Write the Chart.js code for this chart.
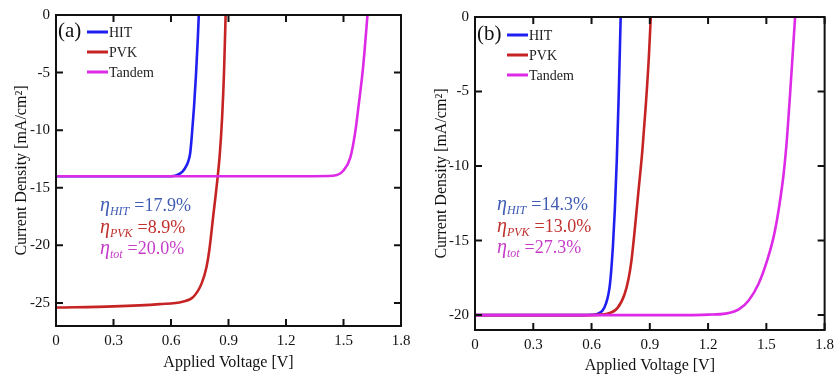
<!DOCTYPE html>
<html>
<head>
<meta charset="utf-8">
<script src="https://cdn.jsdelivr.net/npm/chart.js@4.4.1/dist/chart.umd.min.js"></script>
<style>
  body { margin: 0; background: #fff; }
  #wrap { position: relative; width: 840px; height: 376px; }
  canvas { position: absolute; top: 0; }
  #chartA { left: 0; }
  #chartB { left: 420px; }
</style>
</head>
<body>
<div id="wrap">
  <canvas id="chartA" width="420" height="376"></canvas>
  <canvas id="chartB" width="420" height="376"></canvas>
</div>
<script>
// panel (a)
const aHitV = [0, 0.3, 0.6, 0.63, 0.66, 0.68, 0.69, 0.70, 0.71, 0.72, 0.73, 0.74, 0.745];
const aHitJ = [-14, -14, -14, -13.9, -13.6, -13.1, -12.7, -12.0, -10.2, -8.0, -5.3, -2.0, 0];
const aPvkV = [0, 0.3, 0.54, 0.66, 0.715, 0.76, 0.785, 0.80, 0.82, 0.84, 0.855, 0.867, 0.877, 0.885];
const aPvkJ = [-25.4, -25.3, -25.1, -24.9, -24.5, -23.3, -21.9, -20.4, -17.5, -14.6, -12.0, -8.8, -4.8, 0];
const aTanV = [0, 0.6, 1.2, 1.445, 1.5, 1.535, 1.56, 1.58, 1.6, 1.61, 1.625];
const aTanJ = [-14, -14, -14, -13.95, -13.5, -12.4, -10.3, -7.7, -4.9, -3.1, 0];
const aEta = ["17.9%", "8.9%", "20.0%"];

// panel (b)
const bHitV = [0, 0.55, 0.6, 0.634, 0.675, 0.695, 0.71, 0.72, 0.73, 0.74, 0.75];
const bHitJ = [-20, -20, -19.98, -19.9, -19.2, -17.9, -15.4, -12.9, -9.6, -5.2, 0];
const bPvkV = [0, 0.6, 0.685, 0.735, 0.77, 0.79, 0.805, 0.82, 0.84, 0.862, 0.88, 0.895, 0.905];
const bPvkJ = [-20, -20, -19.9, -19.5, -18.6, -17.6, -16.4, -14.6, -11.9, -8.9, -5.8, -2.7, 0];
const bTanV = [0, 0.6, 1.1, 1.2, 1.29, 1.36, 1.41, 1.46, 1.505, 1.54, 1.565, 1.59, 1.607, 1.622, 1.638, 1.648];
const bTanJ = [-20, -20, -20, -19.97, -19.9, -19.6, -19.0, -17.9, -16.3, -14.6, -12.8, -10.4, -8.0, -5.2, -2.0, 0];
const bEta = ["14.3%", "13.0%", "27.3%"];

const names = ["HIT", "PVK", "Tandem"];
const subs = ["HIT", "PVK", "tot"];
const lineColors = ["#1f1ff2", "#c62424", "#dc2ae6"];
const noteColors = ["#3f5cb4", "#c0302e", "#c63cc8"];

const serif = "'Liberation Serif', 'DejaVu Serif', serif";

function pts(vs, js) {
  return vs.map((v, i) => ({ x: v, y: js[i] }));
}

const framePlugin = {
  id: "frame",
  afterDatasetsDraw(chart, args, opts) {
    const { ctx, chartArea: a, scales } = chart;
    ctx.save();
    ctx.strokeStyle = "#111";
    ctx.lineWidth = 2;
    ctx.strokeRect(a.left, a.top, a.right - a.left, a.bottom - a.top);
    // inward ticks on all four sides
    scales.x.ticks.forEach(t => {
      const px = scales.x.getPixelForValue(t.value);
      ctx.beginPath();
      ctx.moveTo(px, a.bottom); ctx.lineTo(px, a.bottom - 7);
      ctx.moveTo(px, a.top); ctx.lineTo(px, a.top + 7);
      ctx.stroke();
    });
    scales.y.ticks.forEach(t => {
      const py = scales.y.getPixelForValue(t.value);
      ctx.beginPath();
      ctx.moveTo(a.left, py); ctx.lineTo(a.left + 7, py);
      ctx.moveTo(a.right, py); ctx.lineTo(a.right - 7, py);
      ctx.stroke();
    });

    // panel tag + legend
    ctx.fillStyle = "#111";
    ctx.textBaseline = "middle";
    ctx.font = "21px " + serif;
    ctx.fillText(opts.tag, a.left + 2, opts.legendY - 1);
    names.forEach((n, i) => {
      const y = opts.legendY + i * 20;
      ctx.strokeStyle = lineColors[i];
      ctx.lineWidth = 3;
      ctx.beginPath();
      ctx.moveTo(opts.legendX, y); ctx.lineTo(opts.legendX + 21, y);
      ctx.stroke();
      ctx.fillStyle = "#222";
      ctx.font = "14px " + serif;
      ctx.fillText(n, opts.legendX + 22, y + 1);
    });

    // efficiency notes
    ctx.textBaseline = "alphabetic";
    opts.eta.forEach((e, i) => {
      let x = opts.noteX;
      const y = opts.noteY + i * 21.5;
      ctx.fillStyle = noteColors[i];
      ctx.font = "italic 20px " + serif;
      ctx.fillText("\u03b7", x, y);
      x += ctx.measureText("\u03b7").width;
      ctx.font = "italic 12px " + serif;
      ctx.fillText(subs[i], x, y + 4);
      x += ctx.measureText(subs[i]).width + 5;
      ctx.font = "18px " + serif;
      ctx.fillText("=" + e, x, y);
    });
    ctx.restore();
  }
};

function makePanel(id, cfg) {
  const sets = cfg.curves.map((c, i) => ({
    label: names[i],
    data: pts(c[0], c[1]),
    borderColor: lineColors[i],
    borderWidth: 2.6,
    pointRadius: 0,
    cubicInterpolationMode: "monotone",
    order: [2, 1, 0][i],
  }));
  new Chart(document.getElementById(id), {
    type: "line",
    data: { datasets: sets },
    plugins: [framePlugin],
    options: {
      responsive: false,
      animation: false,
      layout: { padding: { left: 0, right: cfg.box.right, top: cfg.box.top, bottom: 0 } },
      plugins: {
        legend: { display: false },
        tooltip: { enabled: false },
        frame: cfg.frame,
      },
      scales: {
        x: {
          type: "linear",
          min: 0,
          max: 1.8,
          grid: { display: false, drawTicks: false },
          border: { display: false },
          afterFit: s => { s.height = cfg.box.bottom; },
          ticks: {
            stepSize: 0.3,
            padding: 6,
            color: "#111",
            font: { family: serif, size: 15 },
            callback: v => (v === 0 ? "0" : v.toFixed(1)),
          },
          title: {
            display: true,
            text: "Applied Voltage [V]",
            color: "#111",
            font: { family: serif, size: 16 },
            padding: { top: 0, bottom: cfg.xTitlePad },
          },
        },
        y: {
          min: cfg.yMin,
          max: 0,
          grid: { display: false, drawTicks: false },
          border: { display: false },
          afterFit: s => { s.width = cfg.box.left; },
          ticks: {
            stepSize: 5,
            includeBounds: false,
            padding: 6,
            color: "#111",
            font: { family: serif, size: 15 },
          },
          title: {
            display: true,
            text: "Current Density [mA/cm\u00b2]",
            color: "#111",
            font: { family: serif, size: 16 },
            padding: { top: 12, bottom: 0 },
          },
        },
      },
    },
  });
}

makePanel("chartA", {
  yMin: -27,
  box: { left: 56, right: 19, top: 14, bottom: 50 },
  xTitlePad: 4,
  curves: [[aHitV, aHitJ], [aPvkV, aPvkJ], [aTanV, aTanJ]],
  frame: { tag: "(a)", legendX: 87, legendY: 32, noteX: 100, noteY: 211, eta: aEta },
});

makePanel("chartB", {
  yMin: -21,
  box: { left: 55, right: 10, top: 17, bottom: 46 },
  xTitlePad: 1,
  curves: [[bHitV, bHitJ], [bPvkV, bPvkJ], [bTanV, bTanJ]],
  frame: { tag: "(b)", legendX: 87, legendY: 35, noteX: 77, noteY: 210, eta: bEta },
});
</script>
</body>
</html>
